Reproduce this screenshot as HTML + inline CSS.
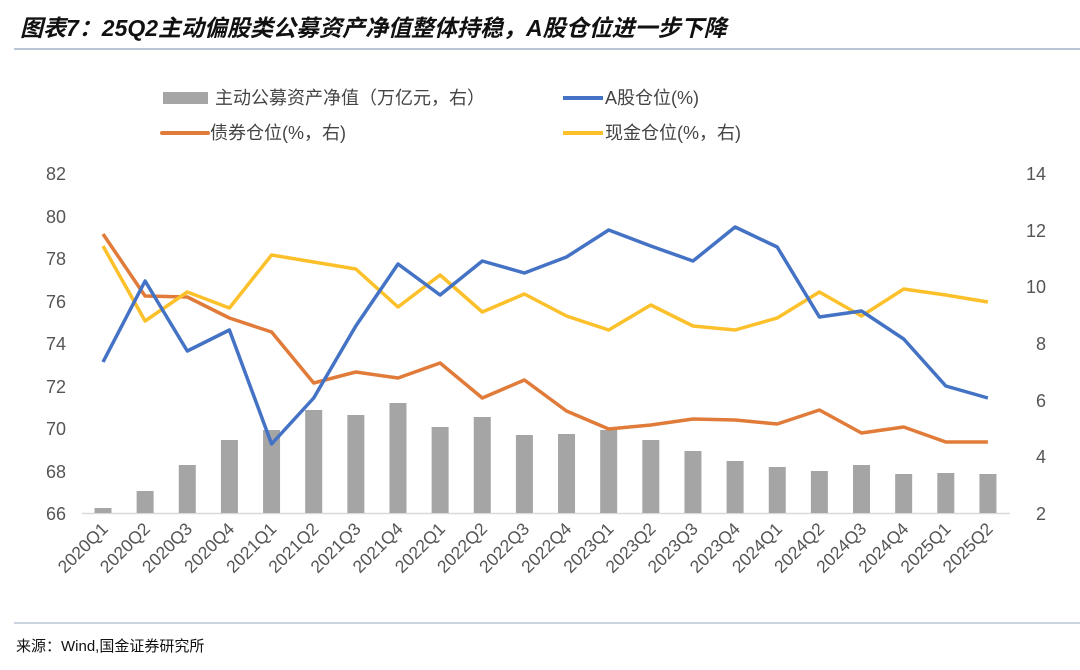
<!DOCTYPE html>
<html><head><meta charset="utf-8"><style>
body{margin:0;background:#fff;width:1080px;height:665px;overflow:hidden;font-family:"Liberation Sans","Noto Sans CJK SC",sans-serif}
</style></head><body>
<svg width="1080" height="665" xmlns="http://www.w3.org/2000/svg" font-family="Liberation Sans, Noto Sans CJK SC, sans-serif">
<text x="20" y="36" font-size="23" font-style="italic" font-weight="bold" fill="#111">图表7：25Q2主动偏股类公募资产净值整体持稳，A股仓位进一步下降</text>
<line x1="14" y1="49" x2="1080" y2="49" stroke="#b8c6d6" stroke-width="2"/>
<line x1="14" y1="623" x2="1080" y2="623" stroke="#b8c6d6" stroke-width="1.5"/>
<text x="16" y="651" font-size="15" fill="#111">来源：Wind,国金证券研究所</text>
<rect x="163" y="92" width="45" height="12" fill="#a5a5a5"/>
<text x="215" y="104" font-size="18" fill="#444">主动公募资产净值（万亿元，右）</text>
<line x1="563" y1="98" x2="603" y2="98" stroke="#4472c4" stroke-width="4"/>
<text x="605" y="104" font-size="18" fill="#444">A股仓位(%)</text>
<line x1="162" y1="133" x2="208" y2="133" stroke="#e07b39" stroke-width="4" stroke-linecap="round"/>
<text x="210" y="139" font-size="18" fill="#444">债券仓位(%，右)</text>
<line x1="563" y1="133" x2="603" y2="133" stroke="#fcc02b" stroke-width="4"/>
<text x="605" y="139" font-size="18" fill="#444">现金仓位(%，右)</text>
<g font-size="18" fill="#555" text-anchor="end">
<text x="66" y="180">82</text><text x="66" y="223">80</text><text x="66" y="265">78</text><text x="66" y="308">76</text><text x="66" y="350">74</text><text x="66" y="393">72</text><text x="66" y="435">70</text><text x="66" y="478">68</text><text x="66" y="520">66</text>
</g>
<g font-size="18" fill="#555">
<text x="1026" y="180">14</text><text x="1026" y="237">12</text><text x="1026" y="293">10</text><text x="1036" y="350">8</text><text x="1036" y="407">6</text><text x="1036" y="463">4</text><text x="1036" y="520">2</text>
</g>
<line x1="82" y1="513.5" x2="1010" y2="513.5" stroke="#d9d9d9" stroke-width="1.5"/>
<g fill="#a5a5a5" id="bars"></g>
<polyline id="o" fill="none" stroke="#e07b39" stroke-width="3.5" stroke-linejoin="round"/>
<polyline id="y" fill="none" stroke="#fcc02b" stroke-width="3.5" stroke-linejoin="round"/>
<polyline id="b" fill="none" stroke="#4472c4" stroke-width="3.5" stroke-linejoin="round"/>
<g id="xl" font-size="17.5" fill="#555"></g>
</svg>
<script>
const ns="http://www.w3.org/2000/svg";
const X=i=>103+42.14*i;
const bars=[508,491,465,440,430,410,415,403,427,417,435,434,430,440,451,461,467,471,465,474,473,474];
const blue=[362,281,351,330,444,398,326,264,295,261,273,257,230,246,261,227,247,317,311,339,386,398];
const org=[234,296,297,318,332,383,372,378,363,398,380,411,429,425,419,420,424,410,433,427,442,442];
const yel=[246,321,292,308,255,262,269,307,275,312,294,316,330,305,326,330,318,292,316,289,295,302];
const g=document.getElementById('bars');
bars.forEach((t,i)=>{const r=document.createElementNS(ns,'rect');r.setAttribute('x',X(i)-8.5);r.setAttribute('y',t);r.setAttribute('width',17);r.setAttribute('height',513-t);g.appendChild(r);});
const pts=a=>a.map((v,i)=>X(i).toFixed(1)+','+v).join(' ');
document.getElementById('b').setAttribute('points',pts(blue));
document.getElementById('o').setAttribute('points',pts(org));
document.getElementById('y').setAttribute('points',pts(yel));
const xl=document.getElementById('xl');
const labs=[];for(let y=2020;y<=2025;y++)for(let q=1;q<=4;q++)labs.push(y+'Q'+q);
for(let i=0;i<22;i++){const t=document.createElementNS(ns,'text');const x=X(i)+6,y=530;t.setAttribute('x',x);t.setAttribute('y',y);t.setAttribute('text-anchor','end');t.setAttribute('transform','rotate(-45 '+x+' '+y+')');t.textContent=labs[i];xl.appendChild(t);}
</script>
</body></html>
